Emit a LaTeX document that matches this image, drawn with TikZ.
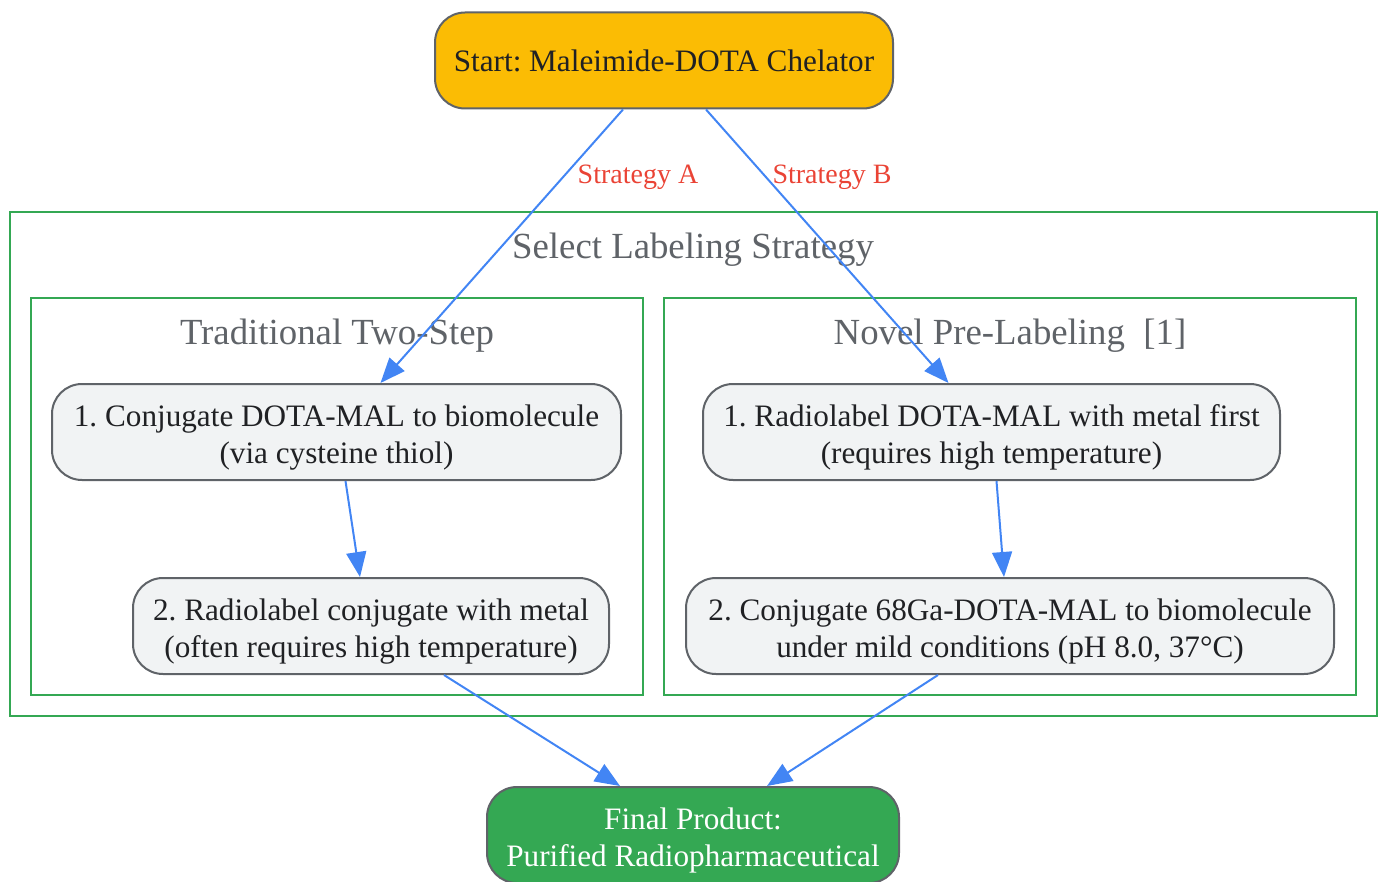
\documentclass[tikz,border=0pt]{standalone}
\usepackage{fontspec}
\setmainfont{Liberation Serif}
\usepackage{tikz}
\usetikzlibrary{arrows.meta,calc}
\frenchspacing
\definecolor{gyellow}{HTML}{FBBC04}
\definecolor{ggreen}{HTML}{34A853}
\definecolor{gblue}{HTML}{4285F4}
\definecolor{gred}{HTML}{EA4335}
\definecolor{ggrey}{HTML}{5F6368}
\definecolor{glight}{HTML}{F1F3F4}
\definecolor{gdark}{HTML}{202124}
\tikzset{
	box/.style = {draw=ggrey, line width=1pt, rounded corners=15pt, align=center, inner sep=0pt,
		minimum height=48pt, font=\fontsize{15.6}{18.5}\selectfont, text=gdark},
	twoline/.style = {text height=34.5pt},
	stepbox/.style = {box, twoline, fill=glight},
	cluster/.style = {draw=ggreen, line width=1pt},
	ctitle/.style = {text=ggrey, font=\fontsize{18.4}{22}\selectfont},
	elabel/.style = {text=gred, font=\fontsize{14}{16}\selectfont},
	flow/.style = {draw=gblue, line width=1pt, -{Triangle[length=12.5pt,width=10pt]}}
}

\begin{document}
\begin{tikzpicture}[x=0.5pt, y=-0.5pt]
		\useasboundingbox (0,0) rectangle (1382,882);
		% groups
		\draw[cluster] (10,212) rectangle (1377,716);
		\draw[cluster] (31,298) rectangle (643,695);
		\draw[cluster] (664,298) rectangle (1356,695);
		\node[ctitle] (tsel) at (693,250) {Select Labeling Strategy};
		\node[ctitle] (ttrad) at (337,336) {Traditional Two-Step};
		\node[ctitle] (tnovel) at (1010,336) {Novel Pre-Labeling\ \ [1]};
		% nodes
		\node[box, fill=gyellow, minimum width=229pt] (start) at (664,60.5) {Start: Maleimide-DOTA Chelator};
		\node[stepbox, minimum width=284.5pt] (conj) at (336.5,432) {1. Conjugate DOTA-MAL to biomolecule\\(via cysteine thiol)};
		\node[stepbox, minimum width=238pt] (radio) at (371,626) {2. Radiolabel conjugate with metal\\(often requires high temperature)};
		\node[stepbox, minimum width=288.5pt] (prelab) at (991.5,432) {1. Radiolabel DOTA-MAL with metal first\\(requires high temperature)};
		\node[stepbox, minimum width=324pt] (mild) at (1010,626) {2. Conjugate 68Ga-DOTA-MAL to biomolecule\\under mild conditions (pH 8.0, 37°C)};
		\node[box, twoline, fill=ggreen, text=white, minimum width=206pt] (final) at (693,835) {Final Product:\\Purified Radiopharmaceutical};
		% edges
		\draw[flow] ($(start.south)+(-41,0)$) -- ($(conj.north)+(44,0)$);
		\draw[flow] ($(start.south)+(42,0)$) -- ($(prelab.north)+(-43,0)$);
		\node[elabel] (sa) at (638,177) {Strategy A};
		\node[elabel] (sb) at (832,177) {Strategy B};
		\draw[flow] ($(conj.south)+(9,0)$) -- ($(radio.north)+(-11,0)$);
		\draw[flow] ($(prelab.south)+(5,0)$) -- ($(mild.north)+(-6,0)$);
		\draw[flow] ($(radio.south)+(73,0)$) -- ($(final.north)+(-73,0)$);
		\draw[flow] ($(mild.south)+(-72,0)$) -- ($(final.north)+(74,0)$);
	\end{tikzpicture}
\end{document}
